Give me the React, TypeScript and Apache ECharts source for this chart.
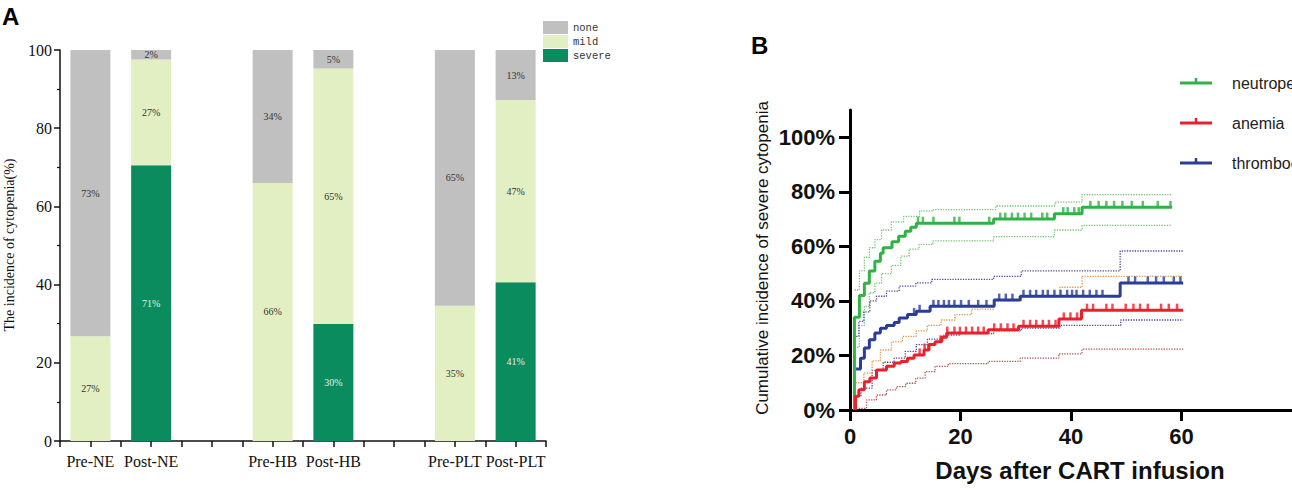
import React, { useEffect, useRef } from "react";
import * as echarts from "echarts";

// ---------- Panel A data ----------
const barNames = ["Pre-NE", "Post-NE", "Pre-HB", "Post-HB", "Pre-PLT", "Post-PLT"];
const barSlots = [1, 3, 7, 9, 13, 15]; // positions on a 17-slot half-step axis
const slotCount = 17;
const severeVals = [0, 70.5, 0, 29.9, 0, 40.6];
const mildVals = [26.8, 27.1, 66, 65.4, 34.6, 46.6];
const noneVals = [73.2, 2.4, 34, 4.7, 65.4, 12.8];
const leftYTicks = [0, 20, 40, 60, 80, 100];

// ---------- Panel B data (day, cumulative incidence %) ----------
const neutroMain: number[][] = [[0.8, 0], [0.8, 34], [1.7, 42], [2.6, 46.5], [3.5, 51], [4.5, 54.5], [5.5, 57.5], [6, 59.5], [7.6, 61.7], [8.8, 63.7], [10, 65.5], [11, 67], [12, 68.5], [26, 70], [37, 72], [42, 74.3], [58.3, 74.3]];
const neutroUpper: number[][] = [[0.8, 44], [1.7, 51], [2.6, 56], [3.5, 59.5], [4.5, 62.5], [5.7, 66], [7.5, 69], [9.7, 71], [12.6, 73], [15.1, 73.5], [26.4, 74.8], [37.1, 76.2], [42, 79], [58.3, 79]];
const neutroLower: number[][] = [[0.8, 23], [1.7, 31], [2.6, 38], [3.5, 43], [4.5, 46.5], [5.7, 50], [7.5, 53], [9.2, 56.4], [10.7, 59], [12.5, 60.7], [15, 62], [26, 63.6], [37, 66], [42, 67.7], [58.3, 67.7]];
const neutroCensor = [12.3, 13.2, 15.1, 18.9, 19.8, 25.2, 27.2, 28.1, 29.3, 30.4, 31.6, 32.8, 34.8, 35.7, 38.6, 39.4, 40.6, 41.4, 43.5, 45, 46.4, 47.8, 49.3, 51, 53, 55.7, 58];

const anemiaMain: number[][] = [[1, 0], [1, 5], [1.6, 7.4], [2.6, 10.4], [3.6, 11.7], [4.8, 14.7], [6.6, 16], [8, 17.2], [9.2, 17.8], [10.4, 19], [11.6, 20.2], [13.4, 22], [14.3, 24], [15.4, 25], [16.6, 26.7], [17.5, 28.2], [25, 29.4], [30.5, 30.7], [37.8, 33.4], [41.9, 36.6], [60.3, 36.6]];
const anemiaUpper: number[][] = [[1, 10], [2.5, 13.5], [4, 18], [5.5, 22], [7.5, 25], [9.5, 27], [12, 29], [14, 31], [16.5, 33], [19, 35], [22, 37], [26, 40], [31, 41.5], [38, 45], [42, 49], [60.3, 49]];
const anemiaLower: number[][] = [[1.6, 0.6], [3, 3.7], [4.8, 5.5], [6.6, 7.4], [8.4, 8.6], [10.1, 9.8], [11.9, 11.7], [13.6, 14.1], [15.4, 16], [17.8, 17], [25, 17.8], [30.8, 19], [37.8, 20.6], [42, 22.3], [60.3, 22.3]];
const anemiaCensor = [12.6, 13.5, 14.2, 16.4, 17.6, 18.9, 19.9, 21, 22.1, 23.2, 24.2, 26.1, 27.3, 28.5, 29.6, 31.4, 32.6, 33.7, 34.9, 36, 37.2, 38.7, 39.9, 41.1, 42.9, 44, 46.4, 47.5, 49.9, 51.3, 52.5, 53.9, 56.3, 57.7, 59.2];

const thromboMain: number[][] = [[1.1, 15], [1.9, 19], [2.6, 22.7], [3.5, 25.8], [4.5, 28.2], [5.5, 30], [6.6, 31], [8, 32.1], [8.9, 33.7], [10.4, 35], [12, 36.2], [14.5, 38], [26.1, 40.3], [30.8, 41.7], [48.9, 46.6], [60.3, 46.6]];
const thromboUpper: number[][] = [[1.1, 27], [1.6, 32.5], [2.5, 36], [3.6, 40], [4.8, 41.7], [6.6, 43.6], [8.9, 45.4], [11.9, 46.6], [14.8, 47.9], [26, 49], [31, 51], [48.9, 58.3], [60.3, 58.3]];
const thromboLower: number[][] = [[1.1, 5], [2, 8], [4, 14.5], [6, 17.5], [8, 19], [10, 21.5], [12, 24], [14, 26], [17, 27.5], [20, 28], [26, 29], [31, 30], [38, 31], [49, 33], [60.3, 33]];
const thromboCensor = [11.6, 12.6, 15.1, 16, 17, 17.9, 18.9, 20.1, 21.5, 23.2, 24.7, 27, 28.2, 29.4, 31.4, 32.6, 33.7, 34.9, 35.8, 37, 38.1, 39.3, 40.2, 41, 42.2, 43.4, 44.6, 45.7, 50.4, 51.6, 53.9, 55.4, 56.8, 58.6, 59.8];

const rightYTicks = [0, 20, 40, 60, 80, 100];
const rightXTicks = [0, 20, 40, 60];
const legendNames = ["neutropenia", "anemia", "thrombocytopenia"];

const C_NONE = "#c0c0c0";
const C_MILD = "#e2efc3";
const C_SEVERE = "#0b8c5e";
const C_GREEN = "#2fb344";
const C_RED = "#e8212b";
const C_BLUE = "#2b3d9b";

function stepAt(pts: number[][], d: number) {
  let v = 0;
  for (const [x, y] of pts) if (x <= d) v = y;
  return v;
}

function slotArray(vals: number[]) {
  const arr: any[] = new Array(slotCount).fill("-");
  barSlots.forEach((s, i) => (arr[s] = vals[i]));
  return arr;
}

export default function App() {
  const ref = useRef<HTMLDivElement>(null);
  useEffect(() => {
    if (!ref.current) return;
    const chart = echarts.init(ref.current, null, { renderer: "svg" });
    const slotLabels: string[] = new Array(slotCount).fill("");
    barSlots.forEach((s, i) => (slotLabels[s] = barNames[i]));
    const slotCats = slotLabels.map((_, i) => "s" + i);

    const barLabel = (color: string) => ({
      show: true,
      position: "inside",
      fontFamily: "Liberation Serif",
      fontSize: 10,
      color,
      formatter: (p: any) => (typeof p.value === "number" && p.value > 0 ? Math.round(p.value) + "%" : ""),
    });

    const serif = "Liberation Serif";
    const sans = "Liberation Sans";

    const kmLine = (name: string, data: number[][], color: string) => ({
      name,
      type: "line",
      xAxisIndex: 1,
      yAxisIndex: 1,
      step: "end",
      symbol: "none",
      data,
      lineStyle: { color, width: 3 },
      z: 5,
    });
    const ciLine = (data: number[][], color: string) => ({
      type: "line",
      xAxisIndex: 1,
      yAxisIndex: 1,
      step: "end",
      symbol: "none",
      data,
      lineStyle: { color, width: 1.3, type: "dotted" },
      z: 3,
      silent: true,
    });
    const censor = (main: number[][], days: number[], color: string) => ({
      type: "scatter",
      xAxisIndex: 1,
      yAxisIndex: 1,
      symbol: "rect",
      symbolSize: [2.5, 7],
      symbolOffset: [0, -3],
      itemStyle: { color },
      data: days.map((d) => [d, stepAt(main, d)]),
      z: 6,
      silent: true,
    });

    const legendY = [83, 123, 163];
    const legendColors = [C_GREEN, C_RED, C_BLUE];
    const legendGraphics: any[] = [];
    legendNames.forEach((n, i) => {
      legendGraphics.push({
        type: "line",
        shape: { x1: 1180, y1: legendY[i], x2: 1212, y2: legendY[i] },
        style: { stroke: legendColors[i], lineWidth: 3 },
      });
      legendGraphics.push({
        type: "line",
        shape: { x1: 1196, y1: legendY[i], x2: 1196, y2: legendY[i] - 5 },
        style: { stroke: legendColors[i], lineWidth: 2.5 },
      });
      legendGraphics.push({
        type: "text",
        x: 1232,
        y: legendY[i],
        style: { text: n, font: `16px ${sans}`, fill: "#222", verticalAlign: "middle" },
      });
    });

    chart.setOption({
      animation: false,
      backgroundColor: "#ffffff",
      grid: [
        { left: 60, top: 50, width: 486, height: 391, containLabel: false },
        { left: 850, top: 110, width: 460, height: 300, containLabel: false },
      ],
      legend: {
        data: ["none", "mild", "severe"],
        orient: "vertical",
        left: 538,
        top: 16,
        itemWidth: 25,
        itemHeight: 13,
        itemGap: 1,
        icon: "rect",
        selectedMode: false,
        textStyle: { fontFamily: "Liberation Mono", fontSize: 10.5, color: "#333" },
      },
      xAxis: [
        {
          type: "category",
          gridIndex: 0,
          data: slotCats,
          boundaryGap: false,
          axisLine: { lineStyle: { color: "#111", width: 1.5 } },
          axisTick: { interval: 0, length: 6, lineStyle: { color: "#111", width: 1.5 } },
          axisLabel: {
            interval: 0,
            margin: 12,
            fontFamily: serif,
            fontSize: 16,
            color: "#111",
            formatter: (_v: string, idx: number) => slotLabels[idx],
          },
          splitLine: { show: false },
        },
        {
          type: "value",
          gridIndex: 1,
          min: 0,
          max: 80,
          interval: 20,
          axisLine: { onZero: false, lineStyle: { color: "#000", width: 3 } },
          axisTick: { length: 11, customValues: rightXTicks, lineStyle: { color: "#000", width: 3 } },
          axisLabel: {
            margin: 15,
            fontFamily: sans,
            fontWeight: "bold",
            fontSize: 22,
            color: "#111",
            customValues: rightXTicks,
          },
          splitLine: { show: false },
        },
      ],
      yAxis: [
        {
          type: "value",
          gridIndex: 0,
          min: 0,
          max: 100,
          interval: 20,
          axisLine: { show: true, lineStyle: { color: "#111", width: 1.5 } },
          axisTick: { show: true, length: 6, lineStyle: { color: "#111", width: 1.5 } },
          minorTick: { show: true, splitNumber: 2, length: 3, lineStyle: { color: "#111", width: 1.2 } },
          axisLabel: { margin: 8, fontFamily: serif, fontSize: 16, color: "#111", customValues: leftYTicks },
          splitLine: { show: false },
        },
        {
          type: "value",
          gridIndex: 1,
          min: 0,
          max: 110,
          interval: 20,
          axisLine: { show: true, onZero: false, lineStyle: { color: "#000", width: 3 } },
          axisTick: { show: true, length: 11, customValues: rightYTicks, lineStyle: { color: "#000", width: 3 } },
          axisLabel: {
            margin: 15,
            fontFamily: sans,
            fontWeight: "bold",
            fontSize: 22,
            color: "#111",
            customValues: rightYTicks,
            formatter: (v: number) => v + "%",
          },
          splitLine: { show: false },
        },
      ],
      series: [
        {
          name: "severe",
          type: "bar",
          stack: "a",
          xAxisIndex: 0,
          yAxisIndex: 0,
          barWidth: 40,
          data: slotArray(severeVals),
          itemStyle: { color: C_SEVERE },
          label: barLabel("#e6efe9"),
        },
        {
          name: "mild",
          type: "bar",
          stack: "a",
          xAxisIndex: 0,
          yAxisIndex: 0,
          barWidth: 40,
          data: slotArray(mildVals),
          itemStyle: { color: C_MILD },
          label: barLabel("#333"),
        },
        {
          name: "none",
          type: "bar",
          stack: "a",
          xAxisIndex: 0,
          yAxisIndex: 0,
          barWidth: 40,
          data: slotArray(noneVals),
          itemStyle: { color: C_NONE },
          label: barLabel("#333"),
        },
        ciLine(neutroUpper, "#74c274"),
        ciLine(neutroLower, "#74c274"),
        ciLine(thromboUpper, "#4b4b9b"),
        ciLine(thromboLower, "#4b4b9b"),
        ciLine(anemiaUpper, "#e0954f"),
        ciLine(anemiaLower, "#b25050"),
        kmLine("neutropenia", neutroMain, C_GREEN),
        kmLine("anemia", anemiaMain, C_RED),
        kmLine("thrombocytopenia", thromboMain, C_BLUE),
        censor(neutroMain, neutroCensor, C_GREEN),
        censor(anemiaMain, anemiaCensor, C_RED),
        censor(thromboMain, thromboCensor, C_BLUE),
      ],
      graphic: [
        { type: "text", x: 2, y: 4, style: { text: "A", font: `bold 24px ${sans}`, fill: "#000" } },
        { type: "text", x: 751, y: 33, style: { text: "B", font: `bold 24px ${sans}`, fill: "#000" } },
        {
          type: "text",
          x: 9,
          y: 245,
          rotation: Math.PI / 2,
          style: { text: "The incidence of cytopenia(%)", font: `14px ${serif}`, fill: "#111", align: "center", verticalAlign: "middle" },
        },
        {
          type: "text",
          x: 762,
          y: 258,
          rotation: Math.PI / 2,
          style: { text: "Cumulative incidence of severe cytopenia", font: `17px ${sans}`, fill: "#111", align: "center", verticalAlign: "middle" },
        },
        {
          type: "text",
          x: 1080,
          y: 470,
          style: { text: "Days after CART infusion", font: `bold 24px ${sans}`, fill: "#111", align: "center", verticalAlign: "middle" },
        },
        ...legendGraphics,
      ],
    });
    return () => chart.dispose();
  }, []);
  return <div ref={ref} style={{ position: "absolute", left: 0, top: 0, width: 1292, height: 494 }} />;
}
